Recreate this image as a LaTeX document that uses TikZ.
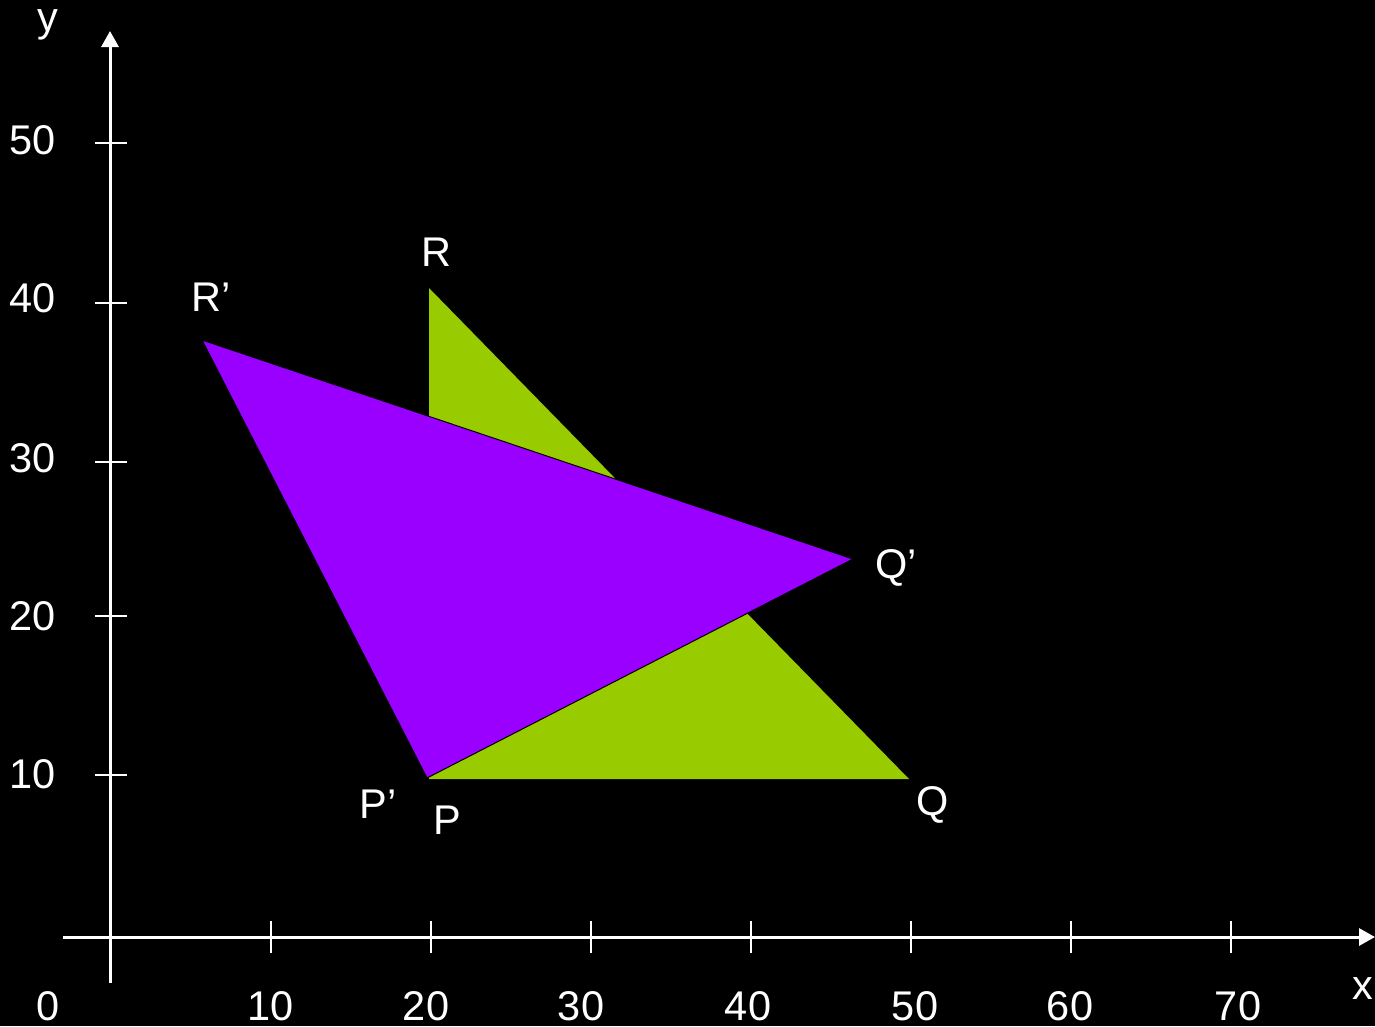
\documentclass[tikz,border=0pt]{standalone}
\usepackage{fontspec}
\setmainfont{Liberation Sans}
\usetikzlibrary{arrows.meta}
\definecolor{tgreen}{RGB}{153,204,0}
\definecolor{tpurple}{RGB}{153,0,255}
\begin{document}
\begin{tikzpicture}[x=1pt,y=-1pt,
  axis/.style={draw=white,line width=3pt,-{Triangle[width=17pt,length=16pt]}},
  tick/.style={draw=white,line width=2.5pt},
  lbl/.style={text=white,inner sep=0pt,font=\fontsize{41.5}{48}\selectfont}]
\fill[black] (0,0) rectangle (1375,1026);
\useasboundingbox (0,0) rectangle (1375,1026);
% axes
\coordinate (xs) at (63,937);
\coordinate (xe) at (1375,937);
\coordinate (ys) at (110,983);
\coordinate (ye) at (110,31);
\draw[axis] (xs) -- (xe);
\draw[axis] (ys) -- (ye);
% x ticks
\foreach \x in {271,431,591,751,911,1071,1231}{
  \draw[tick] (\x,921) -- (\x,953);
}
% y ticks
\foreach \y in {143,303,462,616,775}{
  \draw[tick] (95,\y) -- (127,\y);
}
% triangles
\coordinate (P) at (429,779);
\coordinate (Q) at (909,779);
\coordinate (R) at (429,288);
\coordinate (P') at (427,778);
\coordinate (Q') at (853,559);
\coordinate (R') at (202,340);
\fill[tgreen] (P) -- (Q) -- (R) -- cycle;
\filldraw[fill=tpurple,draw=black,line width=1pt] (P') -- (Q') -- (R') -- cycle;
% axis labels
\node[lbl] (ly) at (48,25) {y};
\node[lbl] (lx) at (1363,989) {x};
\node[lbl] (l0) at (48,1006) {0};
\node[lbl] at (271,1006) {10};
\node[lbl] at (426,1006) {20};
\node[lbl] at (581,1006) {30};
\node[lbl] at (748,1006) {40};
\node[lbl] at (915,1006) {50};
\node[lbl] at (1070,1006) {60};
\node[lbl] at (1238,1006) {70};
\node[lbl] at (33,140) {50};
\node[lbl] at (33,298) {40};
\node[lbl] at (33,458) {30};
\node[lbl] at (33,616) {20};
\node[lbl] at (33,774) {10};
% point labels
\node[lbl] (lR) at (436,252) {R};
\node[lbl] (lR') at (211,297) {R’};
\node[lbl] (lQ') at (896,568) {Q’};
\node[lbl] (lP') at (378,804) {P’};
\node[lbl] (lP) at (447,820) {P};
\node[lbl] (lQ) at (933,805) {Q};
\end{tikzpicture}
\end{document}
